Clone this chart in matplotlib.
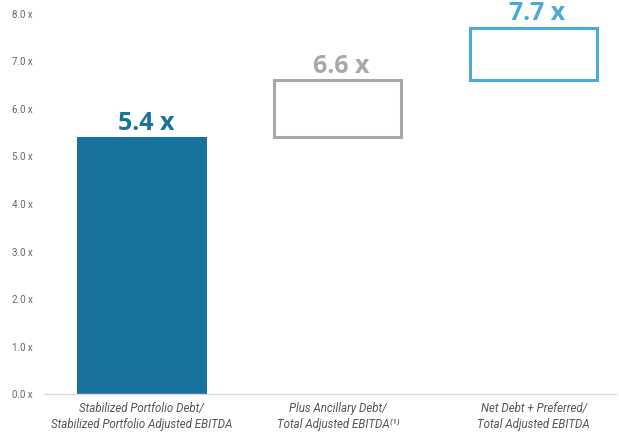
import matplotlib
matplotlib.use("Agg")
import matplotlib.pyplot as plt

categories = ["Stabilized Portfolio Debt/\nStabilized Portfolio Adjusted EBITDA",
              "Plus Ancillary Debt/\nTotal Adjusted EBITDA\u207d\u00b9\u207e",
              "Net Debt + Preferred/\nTotal Adjusted EBITDA"]
bottoms = [0.0, 5.4, 6.6]
tops = [5.4, 6.6, 7.7]
labels = ["5.4 x", "6.6 x", "7.7 x"]
colors = ["#17739e", "#a8a8a8", "#4baad6"]
yticks = [0, 1, 2, 3, 4, 5, 6, 7, 8]

plt.rcParams['font.family'] = ['Roboto', 'DejaVu Sans']

fig = plt.figure(figsize=(6.19, 4.34), dpi=100)
ax = fig.add_axes([0.071, 0.092, 0.924, 0.876])

x = range(len(categories))
heights = [t - b for t, b in zip(tops, bottoms)]
for i in x:
    if i == 0:
        ax.bar(i, heights[i], bottom=bottoms[i], width=0.665, color=colors[i], zorder=2)
    else:
        ax.bar(i, heights[i], bottom=bottoms[i], width=0.65, facecolor="white",
               edgecolor=colors[i], linewidth=2.2, zorder=2)
    ax.text(i + 0.02, tops[i] + 0.04, labels[i], ha="center", va="bottom",
            fontsize=18, fontweight="bold", color=colors[i], family=["Open Sans", "DejaVu Sans"])

ax.set_xlim(-0.5, 2.42)
ax.set_ylim(0, 8)
ax.set_yticks(yticks)
ax.set_yticklabels([f"{v:.1f} x" for v in yticks], fontsize=7, color="#666666")
ax.set_xticks(list(x))
ax.set_xticklabels(categories, fontsize=8.3, style="italic", color="#555555", linespacing=1.25)
ax.tick_params(axis="both", length=0)
ax.tick_params(axis="y", pad=8)
ax.tick_params(axis="x", pad=6)
for s in ["top", "right", "left"]:
    ax.spines[s].set_visible(False)
ax.spines["bottom"].set_color("#d9d9d9")
ax.spines["bottom"].set_linewidth(1)

fig.savefig("out.png", dpi=100)
